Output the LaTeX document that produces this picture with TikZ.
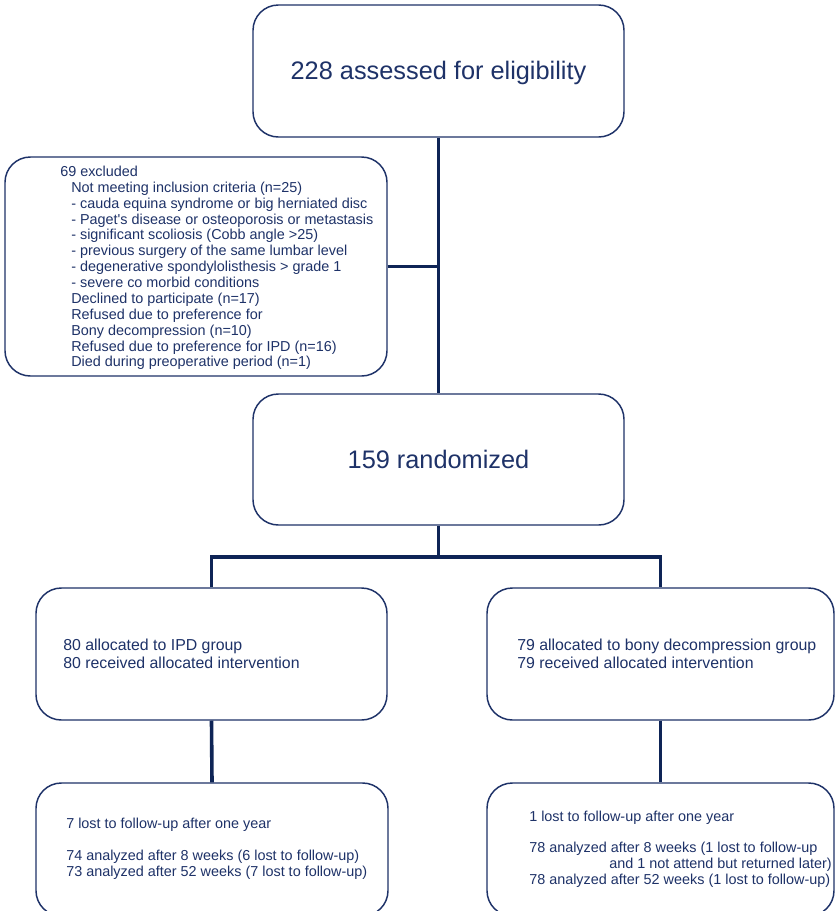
\documentclass[tikz,border=0pt]{standalone}
\usepackage{fontspec}
\setmainfont{Liberation Sans}
\definecolor{navy}{RGB}{30,50,104}
\definecolor{linec}{RGB}{14,36,86}
\tikzset{
  box/.style={draw=navy, line width=1.1pt, rounded corners=19pt, inner sep=0pt, fill=white},
  big/.style={text=navy, font={\fontsize{19}{22}\selectfont}},
  small/.style={text=navy, inner sep=0pt, align=left, font={\fontsize{10.8}{11.9}\selectfont}},
  mid/.style={text=navy, inner sep=0pt, align=left, font={\fontsize{11.9}{13.5}\selectfont}},
  conn/.style={draw=linec, line width=2.7pt, line join=miter}
}
\begin{document}
\begin{tikzpicture}[x=0.75pt,y=-0.75pt]
\useasboundingbox (0,0) rectangle (835,911);
\clip (0,0) rectangle (835,911);
\fill[white] (0,0) rectangle (835,911);

% boxes
\node[box, minimum width=278.25pt, minimum height=99pt] (top) at (438.5,71) {};
\node[big] (topt) at (438.5,73) {228 assessed for eligibility};
\node[box, minimum width=286.5pt, minimum height=164.25pt] (excl) at (196,266.5) {};
\node[box, big, minimum width=278.25pt, minimum height=98.25pt] (rand) at (438.5,459.5) {159 randomized};
\node[box, minimum width=263.25pt, minimum height=99pt] (la) at (211.5,654) {};
\node[box, minimum width=260.25pt, minimum height=99pt] (ra) at (660.5,654) {};
\node[box, minimum width=264pt, minimum height=99.75pt] (lb) at (212,849.5) {};
\node[box, minimum width=260.25pt, minimum height=99.75pt] (rb) at (660.5,849.5) {};

% texts
\node[small, anchor=west] (exclt) at (60,268) {69 excluded\\
\hspace*{8.25pt}Not meeting inclusion criteria (n=25)\\
\hspace*{8.25pt}- cauda equina syndrome or big herniated disc\\
\hspace*{8.25pt}- Paget\textquotesingle s disease or osteoporosis or metastasis\\
\hspace*{8.25pt}- significant scoliosis (Cobb angle >25)\\
\hspace*{8.25pt}- previous surgery of the same lumbar level\\
\hspace*{8.25pt}- degenerative spondylolisthesis > grade 1\\
\hspace*{8.25pt}- severe co morbid conditions\\
\hspace*{8.25pt}Declined to participate (n=17)\\
\hspace*{8.25pt}Refused due to preference for\\
\hspace*{8.25pt}Bony decompression (n=10)\\
\hspace*{8.25pt}Refused due to preference for IPD (n=16)\\
\hspace*{8.25pt}Died during preoperative period (n=1)};

\node[mid, anchor=west] (lat) at (63,654) {80 allocated to IPD group\\80 received allocated intervention};
\node[mid, anchor=west] (rat) at (517,654) {79 allocated to bony decompression group\\79 received allocated intervention};

\node[small, anchor=west] (lbt) at (66,849) {7 lost to follow-up after one year\\[11.9pt]
74 analyzed after 8 weeks (6 lost to follow-up)\\
73 analyzed after 52 weeks (7 lost to follow-up)};
\node[small, anchor=west] (rbt) at (529,849) {1 lost to follow-up after one year\\[11.9pt]
78 analyzed after 8 weeks (1 lost to follow-up\\
\hspace*{60pt}and 1 not attend but returned later)\\
78 analyzed after 52 weeks (1 lost to follow-up)};

% connectors
\coordinate (split) at (438.5,557);
\draw[conn] (top.south) -- (rand.north);
\draw[conn] (excl.east) -- (excl.east -| top.south);
\draw[conn] (rand.south) -- (split);
\draw[conn] (la.north) |- (split) -| (ra.north);
\draw[conn] (la.south) -- (lb.north);
\draw[conn] (ra.south) -- (rb.north);
\end{tikzpicture}
\end{document}
